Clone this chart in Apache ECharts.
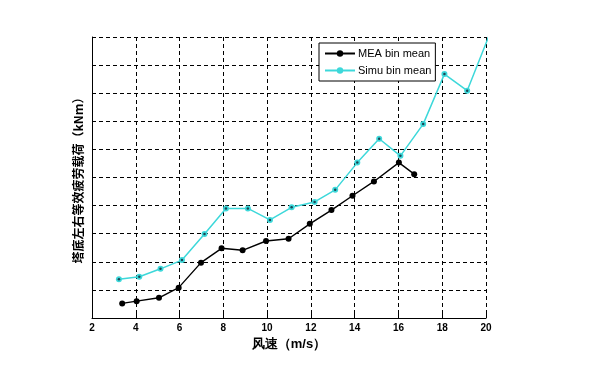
<!DOCTYPE html>
<html>
<head>
<meta charset="utf-8">
<script src="https://cdn.jsdelivr.net/npm/echarts@6/dist/echarts.min.js"></script>
<style>html,body{margin:0;padding:0;background:#fff}#c{width:594px;height:381px}</style>
</head>
<body>
<div id="c"></div>
<script>
const xTicks = [2, 4, 6, 8, 10, 12, 14, 16, 18, 20];
const meaWind = [3.38, 4.04, 5.06, 5.96, 6.98, 7.92, 8.88, 9.95, 10.98, 11.95, 12.94, 13.9, 14.88, 16.02, 16.72];
const meaLoad = [0.52, 0.60, 0.72, 1.08, 1.97, 2.48, 2.41, 2.74, 2.82, 3.35, 3.84, 4.35, 4.86, 5.53, 5.12];
const simuWind = [3.23, 4.16, 5.13, 6.11, 7.14, 8.12, 9.12, 10.13, 11.12, 12.17, 13.11, 14.12, 15.12, 16.09, 17.13, 18.1, 19.14, 20.2];
const simuLoad = [1.38, 1.47, 1.75, 2.06, 2.99, 3.90, 3.90, 3.49, 3.94, 4.13, 4.56, 5.53, 6.38, 5.77, 6.90, 8.68, 8.09, 10.17];
const seriesNames = ['MEA bin mean', 'Simu bin mean'];
const xName = '风速（m/s）';
const yName = '塔底左右等效疲劳载荷（kNm）';

const mea = meaWind.map((x, i) => [x, meaLoad[i]]);
const simu = simuWind.map((x, i) => [x, simuLoad[i]]);
const CY = '#3dd8da';
const font = '"Liberation Sans", Arial, sans-serif';

const chart = echarts.init(document.getElementById('c'), null, {renderer: 'canvas'});
chart.setOption({
  animation: false,
  backgroundColor: '#fff',
  grid: {left: 92, right: 108, top: 37, bottom: 63, containLabel: false},
  legend: {
    data: seriesNames,
    orient: 'vertical',
    left: 319, top: 43,
    padding: [5, 4, 5, 5],
    itemGap: 6,
    itemWidth: 30, itemHeight: 8,
    backgroundColor: '#fff',
    borderColor: '#000', borderWidth: 1,
    textStyle: {fontFamily: font, fontSize: 11, color: '#000', padding: [0, 0, 0, -2]}
  },
  xAxis: {
    type: 'value', min: 2, max: 20, interval: 2,
    name: xName, nameLocation: 'middle', nameGap: 20,
    nameTextStyle: {fontFamily: font, fontSize: 13, fontWeight: 'bold', color: '#000'},
    axisLine: {show: true, lineStyle: {color: '#000', width: 1}},
    axisTick: {show: true, inside: true, length: 5, lineStyle: {color: '#000'}},
    axisLabel: {fontFamily: font, fontSize: 10, fontWeight: 'bold', color: '#000', margin: 5,
      formatter: v => xTicks.includes(v) ? String(v) : ''},
    splitLine: {show: true, lineStyle: {color: '#000', type: [4, 3], width: 1}}
  },
  yAxis: {
    type: 'value', min: 0, max: 10, interval: 1,
    name: yName, nameLocation: 'middle', nameGap: 8, nameRotate: 90,
    nameTextStyle: {fontFamily: '"Noto Sans CJK SC", sans-serif', fontSize: 12, fontWeight: 'bold', color: '#000'},
    axisLine: {show: true, lineStyle: {color: '#000', width: 1}},
    axisTick: {show: false},
    axisLabel: {show: false},
    splitLine: {show: true, lineStyle: {color: '#000', type: [4, 3], width: 1}}
  },
  series: [
    {
      name: seriesNames[0], type: 'line', data: mea,
      symbol: 'circle', symbolSize: 6,
      itemStyle: {color: '#000'},
      lineStyle: {color: '#000', width: 1.4},
      z: 3
    },
    {
      name: seriesNames[1], type: 'line', data: simu,
      symbol: 'circle', symbolSize: 6,
      itemStyle: {color: CY},
      lineStyle: {color: CY, width: 1.5},
      z: 2
    },
    {
      name: 'simu-dot', type: 'scatter', data: simu,
      symbol: 'circle', symbolSize: 2.5,
      itemStyle: {color: '#123'},
      z: 4, silent: true
    }
  ]
});
</script>
</body>
</html>
